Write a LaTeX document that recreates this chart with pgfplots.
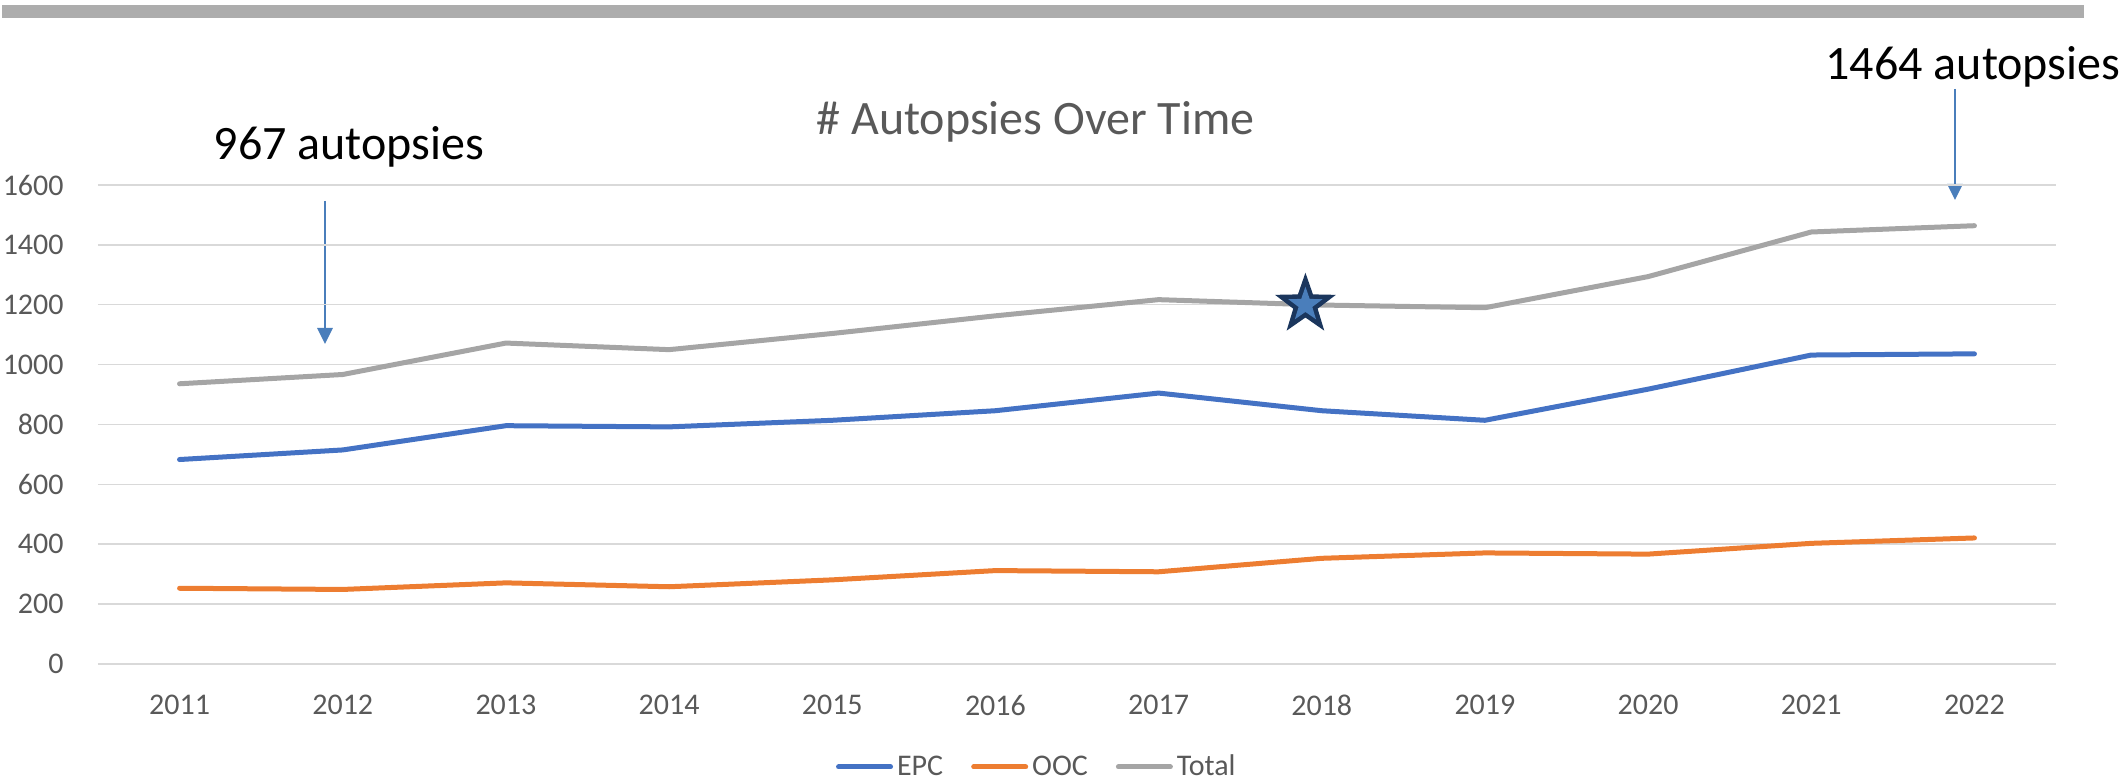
\documentclass[border=0pt]{standalone}
\usepackage{pgfplots}
\pgfplotsset{compat=1.18}
\usepackage{fontspec}
\setmainfont{Carlito}
\usetikzlibrary{arrows.meta}
\definecolor{epc}{HTML}{4472C4}
\definecolor{ooc}{HTML}{ED7D31}
\definecolor{tot}{HTML}{A5A5A5}
\definecolor{txt}{HTML}{595959}
\definecolor{gridc}{HTML}{D9D9D9}
\definecolor{barc}{HTML}{ADADAD}
\definecolor{arrc}{HTML}{4A7EBB}
\definecolor{navy}{HTML}{1B365D}
\definecolor{starin}{HTML}{4A7EBB}
\pgfdeclareplotmark{fivestar}{%
  \pgfpathmoveto{\pgfpointpolar{90}{\pgfplotmarksize}}%
  \pgfpathlineto{\pgfpointpolar{126}{0.40\pgfplotmarksize}}%
  \pgfpathlineto{\pgfpointpolar{162}{\pgfplotmarksize}}%
  \pgfpathlineto{\pgfpointpolar{198}{0.40\pgfplotmarksize}}%
  \pgfpathlineto{\pgfpointpolar{234}{\pgfplotmarksize}}%
  \pgfpathlineto{\pgfpointpolar{270}{0.40\pgfplotmarksize}}%
  \pgfpathlineto{\pgfpointpolar{306}{\pgfplotmarksize}}%
  \pgfpathlineto{\pgfpointpolar{342}{0.40\pgfplotmarksize}}%
  \pgfpathlineto{\pgfpointpolar{18}{\pgfplotmarksize}}%
  \pgfpathlineto{\pgfpointpolar{54}{0.40\pgfplotmarksize}}%
  \pgfpathclose
  \pgfusepathqfill
}
\pgfplotstableread{
x EPC OOC Total
0 683 253 936
1 715 249 967
2 796 271 1072
3 792 258 1050
4 814 281 1104
5 846 312 1163
6 905 308 1217
7 846 353 1199
8 814 371 1190
9 918 367 1294
10 1032 403 1443
11 1036 421 1464
}\data
\begin{document}
\begin{tikzpicture}
\useasboundingbox (0,0) rectangle (1060.5pt,390.5pt);
\fill[barc] (1pt,381.5pt) rectangle (1042pt,388pt);
\node[anchor=base, text=txt, font=\fontsize{24}{28}\selectfont, inner sep=0pt] at (517.75pt,323pt) {\# Autopsies Over Time};
\node[anchor=base, text=black, font=\fontsize{24}{28}\selectfont, inner sep=0pt] at (174.5pt,310.5pt) {967 autopsies};
\node[anchor=base, text=black, font=\fontsize{24}{28}\selectfont, inner sep=0pt] at (986.5pt,350.5pt) {1464 autopsies};
\draw[arrc, line width=1.4pt, -{Triangle[width=7.5pt,length=8pt]}] (162.5pt,290pt) -- (162.5pt,218.5pt);
\draw[arrc, line width=1.4pt, -{Triangle[width=7.5pt,length=8pt]}] (977.5pt,346pt) -- (977.5pt,290.5pt);
\begin{axis}[
  at={(49pt,58.5pt)}, anchor=south west,
  scale only axis, width=979pt, height=239.5pt,
  xmin=-0.5, xmax=11.5, ymin=0, ymax=1600,
  xtick={0,...,11},
  xticklabels={2011,2012,2013,2014,2015,2016,2017,2018,2019,2020,2021,2022},
  ytick={0,200,...,1600},
  ymajorgrids,
  major grid style={gridc, line width=0.75pt},
  axis line style={draw=none},
  tick style={draw=none},
  /pgf/number format/assume math mode=true,
  /pgf/number format/1000 sep={},
  ticklabel style={text=txt, font=\fontsize{15}{17}\selectfont},
  y tick label style={inner sep=0pt, xshift=-17pt},
  x tick label style={inner sep=0pt, yshift=-15.5pt},
  clip=false,
  legend columns=3,
  legend style={draw=none, fill=none, at={(0.48,-0.215)}, anchor=center,
    font=\fontsize{15}{17}\selectfont, text=txt,
    /tikz/every even column/.append style={column sep=12pt},
    inner sep=0pt},
  legend image code/.code={\draw[#1, line cap=round] (0pt,0pt) -- (26pt,0pt);},
  every axis plot/.append style={line width=2.5pt, line cap=round, line join=round},
]
\addplot[epc, mark=none] table[x=x, y=EPC] {\data};
\addlegendentry{EPC}
\addplot[ooc, mark=none] table[x=x, y=OOC] {\data};
\addlegendentry{OOC}
\addplot[tot, mark=none] table[x=x, y=Total] {\data};
\addlegendentry{Total}
\addplot[only marks, mark=fivestar, mark size=16pt, navy, forget plot] coordinates {(6.9,1200)};
\addplot[only marks, mark=fivestar, mark size=9pt, starin, forget plot] coordinates {(6.9,1200)};
\end{axis}
\end{tikzpicture}
\end{document}
